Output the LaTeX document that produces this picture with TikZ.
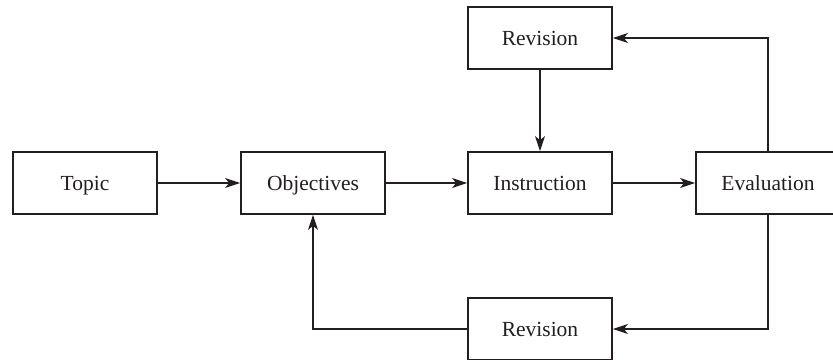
\documentclass[tikz,border=0pt]{standalone}
\usepackage{fontspec}
\setmainfont{Liberation Serif}
\usetikzlibrary{arrows.meta}
\definecolor{ink}{HTML}{231F20}
\begin{document}
\begin{tikzpicture}[x=1pt,y=-1pt,
  box/.style={draw=ink, line width=1.8pt, minimum width=144pt, minimum height=62pt,
    inner sep=0pt, text=ink, text height=14pt, text depth=0pt,
    font=\fontsize{21.5}{25}\selectfont},
  link/.style={draw=ink, line width=1.2pt,
    -{Stealth[length=15pt,width=10pt,inset=4pt]}}]
% page area; the evaluation box runs past the right edge
\clip (0,0) rectangle (833,359);
\fill[white] (0,0) rectangle (833,359);

\node[box] (topic)  at (85,183)  {Topic};
\node[box] (obj)    at (313,183) {Objectives};
\node[box] (instr)  at (540,183) {Instruction};
\node[box] (eval)   at (768,183) {Evaluation};
\node[box] (revtop) at (540,38)  {Revision};
\node[box] (revbot) at (540,329) {Revision};

\draw[link] (topic) -- (obj);
\draw[link] (obj) -- (instr);
\draw[link] (instr) -- (eval);
\draw[link] (revtop) -- (instr);
\draw[link] (eval.north) |- (revtop.east);
\draw[link] (eval.south) |- (revbot.east);
\draw[link] (revbot.west) -| (obj.south);
\end{tikzpicture}
\end{document}
